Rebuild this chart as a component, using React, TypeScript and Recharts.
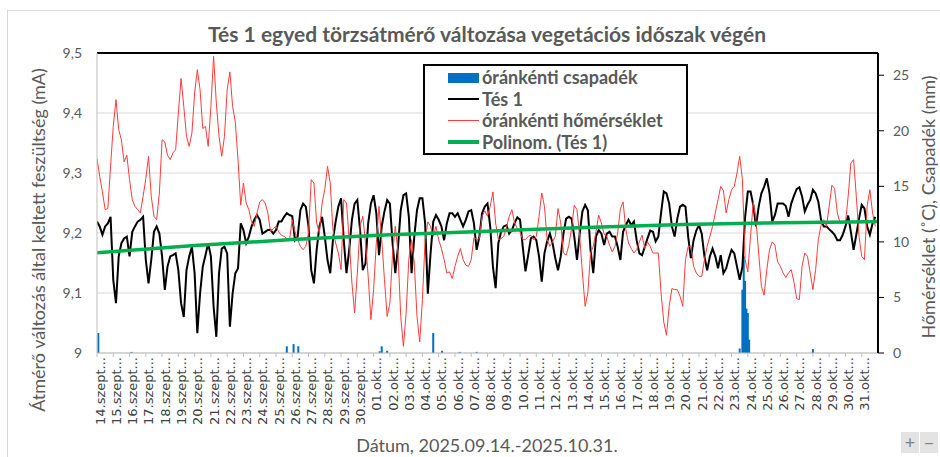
import React from 'react';
import { ComposedChart, Line, Bar, XAxis, YAxis, CartesianGrid, ReferenceLine } from 'recharts';

// ---- categories (one tick label per day) ----
const dayLabels = [
  '14.szept...', '15.szept...', '16.szept...', '17.szept...', '18.szept...', '19.szept...',
  '20.szept...', '21.szept...', '22.szept...', '23.szept...', '24.szept...', '25.szept...',
  '26.szept...', '27.szept...', '28.szept...', '29.szept...', '30.szept...',
  '01.okt...', '02.okt...', '03.okt...', '04.okt...', '05.okt...', '06.okt...', '07.okt...',
  '08.okt...', '09.okt...', '10.okt...', '11.okt...', '12.okt...', '13.okt...', '14.okt...',
  '15.okt...', '16.okt...', '17.okt...', '18.okt...', '19.okt...', '20.okt...', '21.okt...',
  '22.okt...', '23.okt...', '24.okt...', '25.okt...', '26.okt...', '27.okt...', '28.okt...',
  '29.okt...', '30.okt...', '31.okt...',
];
const hoursPerDay = 24;
const sampleStepHours = 4; // values below are read every 4 hours (6 per day)

// ---- Tés 1 (mA), 6 readings per day ----
const tes1 = [
  9.219, 9.211, 9.197, 9.211, 9.216, 9.227, // 14.09
  9.122, 9.083, 9.161, 9.183, 9.191, 9.194,
  9.161, 9.202, 9.211, 9.219, 9.222, 9.227,
  9.155, 9.116, 9.155, 9.202, 9.211, 9.199,
  9.161, 9.105, 9.144, 9.161, 9.163, 9.166,
  9.138, 9.083, 9.060, 9.138, 9.161, 9.177,
  9.133, 9.033, 9.099, 9.144, 9.163, 9.183, // 20.09
  9.161, 9.077, 9.027, 9.133, 9.174, 9.177,
  9.166, 9.044, 9.099, 9.133, 9.141, 9.216,
  9.205, 9.183, 9.194, 9.211, 9.222, 9.230,
  9.222, 9.199, 9.202, 9.205, 9.205, 9.199,
  9.205, 9.219, 9.219, 9.227, 9.233, 9.230, // 25.09
  9.228, 9.188, 9.194, 9.238, 9.249, 9.244,
  9.211, 9.138, 9.116, 9.172, 9.211, 9.227,
  9.194, 9.155, 9.133, 9.188, 9.219, 9.244,
  9.258, 9.188, 9.133, 9.172, 9.222, 9.249,
  9.255, 9.205, 9.138, 9.149, 9.216, 9.249, // 30.09
  9.263, 9.233, 9.163, 9.211, 9.236, 9.255,
  9.249, 9.183, 9.133, 9.177, 9.238, 9.263,
  9.266, 9.227, 9.133, 9.194, 9.238, 9.258,
  9.258, 9.216, 9.099, 9.166, 9.219, 9.230,
  9.222, 9.211, 9.188, 9.216, 9.233, 9.233, // 05.10
  9.227, 9.233, 9.222, 9.211, 9.222, 9.236,
  9.238, 9.216, 9.172, 9.194, 9.233, 9.244,
  9.249, 9.211, 9.144, 9.108, 9.183, 9.202,
  9.211, 9.213, 9.199, 9.205, 9.217, 9.226,
  9.222, 9.177, 9.136, 9.163, 9.191, 9.194, // 10.10
  9.188, 9.161, 9.119, 9.166, 9.186, 9.199,
  9.183, 9.158, 9.138, 9.161, 9.199, 9.224,
  9.227, 9.224, 9.194, 9.155, 9.199, 9.236,
  9.247, 9.238, 9.172, 9.133, 9.194, 9.205,
  9.199, 9.180, 9.199, 9.202, 9.194, 9.194, // 15.10
  9.177, 9.155, 9.202, 9.213, 9.222, 9.213,
  9.219, 9.188, 9.166, 9.163, 9.177, 9.191,
  9.204, 9.202, 9.186, 9.194, 9.233, 9.269,
  9.266, 9.249, 9.211, 9.194, 9.224, 9.244,
  9.247, 9.244, 9.194, 9.158, 9.188, 9.204, // 20.10
  9.213, 9.199, 9.161, 9.138, 9.161, 9.174,
  9.161, 9.141, 9.163, 9.133, 9.141, 9.158,
  9.172, 9.166, 9.144, 9.122, 9.144, 9.227,
  9.269, 9.269, 9.247, 9.211, 9.244, 9.266,
  9.277, 9.291, 9.266, 9.219, 9.230, 9.249, // 25.10
  9.249, 9.249, 9.245, 9.227, 9.249, 9.262,
  9.273, 9.276, 9.261, 9.236, 9.247, 9.255,
  9.272, 9.266, 9.252, 9.222, 9.211, 9.211,
  9.206, 9.202, 9.197, 9.188, 9.188, 9.197,
  9.211, 9.229, 9.202, 9.172, 9.197, 9.224, // 30.10
  9.247, 9.241, 9.211, 9.197, 9.216, 9.227,
];

// ---- hourly temperature (°C), 6 readings per day ----
const temperature = [
  17.5, 15.9, 14.5, 12.9, 13.0, 16.8, // 14.09
  20.4, 22.8, 20.1, 19.2, 17.2, 17.8,
  15.6, 13.8, 13.2, 12.9, 12.6, 14.1,
  15.7, 17.7, 14.1, 12.3, 12.0, 14.4,
  19.2, 19.0, 17.8, 17.4, 18.0, 18.3,
  21.6, 24.7, 22.2, 19.5, 18.6, 19.8,
  23.4, 25.5, 23.7, 20.2, 20.4, 18.6, // 20.09
  22.2, 26.7, 22.5, 19.5, 17.7, 19.5,
  23.7, 25.3, 22.2, 20.8, 17.4, 13.3,
  15.3, 13.5, 12.9, 11.8, 11.4, 12.6,
  13.6, 13.8, 13.5, 12.6, 10.9, 11.2,
  11.4, 10.9, 10.6, 10.5, 10.3, 10.2, // 25.09
  12.0, 10.9, 10.2, 9.6, 9.3, 9.6,
  10.8, 15.6, 15.3, 11.7, 10.8, 13.5,
  14.7, 16.8, 15.3, 11.1, 9.9, 9.0,
  7.5, 13.8, 13.5, 10.2, 6.3, 3.6,
  7.2, 11.4, 12.3, 10.0, 6.9, 3.0, // 30.09
  5.7, 9.9, 13.2, 10.2, 6.6, 3.3,
  4.5, 9.0, 11.4, 9.0, 3.3, 0.6,
  3.6, 8.5, 10.2, 8.1, 3.3, 1.0,
  4.8, 10.2, 11.8, 11.4, 10.5, 11.4,
  10.2, 9.4, 8.4, 7.2, 7.3, 6.7, // 05.10
  7.8, 8.7, 9.4, 8.4, 7.9, 7.8,
  8.4, 10.4, 10.2, 10.3, 12.3, 12.8,
  12.3, 13.2, 14.5, 11.7, 10.2, 10.3,
  10.5, 11.3, 12.3, 12.9, 11.7, 11.2,
  10.9, 10.2, 10.2, 10.5, 10.6, 10.2, // 10.10
  10.5, 12.3, 14.4, 13.2, 10.2, 9.6,
  10.0, 10.5, 13.0, 11.7, 9.0, 8.8,
  9.7, 11.2, 13.3, 12.9, 10.5, 7.2,
  4.2, 5.4, 9.0, 9.6, 10.9, 12.4,
  11.7, 10.7, 10.5, 9.7, 9.1, 9.6, // 15.10
  10.8, 13.0, 13.6, 11.1, 9.9, 9.4,
  9.0, 9.3, 10.0, 10.6, 9.4, 10.0,
  9.6, 9.0, 9.0, 9.0, 5.4, 2.8,
  1.6, 4.2, 5.8, 5.7, 5.7, 5.1,
  4.2, 8.4, 9.6, 9.6, 7.8, 7.2, // 20.10
  6.9, 6.9, 8.4, 9.6, 10.5, 11.4,
  12.6, 13.8, 15.0, 14.6, 12.6, 13.8,
  14.7, 15.0, 16.2, 17.7, 15.6, 8.4,
  7.3, 10.5, 13.6, 12.0, 9.0, 6.0,
  5.2, 7.5, 9.3, 10.0, 9.7, 8.2, // 25.10
  7.8, 7.2, 6.8, 7.2, 7.5, 6.4,
  4.9, 4.8, 7.8, 9.0, 8.7, 7.2,
  5.7, 7.5, 10.2, 11.5, 12.0, 11.4,
  13.2, 15.1, 14.8, 12.6, 11.7, 11.8,
  11.7, 14.1, 17.1, 17.4, 14.1, 10.5, // 30.10
  8.7, 8.4, 13.2, 14.7, 12.6, 11.4,
];

// ---- hourly precipitation (mm): hour index since 14.09 00:00, amount ----
const rainHours = [2, 51, 280, 290, 297, 417, 420, 428, 496, 509, 535, 560, 948, 952, 954, 956, 958, 960, 962, 1056];
const rainMm = [1.8, 0.1, 0.6, 0.8, 0.6, 0.15, 0.6, 0.2, 1.8, 0.2, 0.1, 0.1, 0.4, 5.7, 8.7, 6.5, 4.0, 3.6, 1.2, 0.35];

// ---- polynomial trend of Tés 1, read at every 6th day ----
const trendHours = [0, 144, 288, 432, 576, 720, 864, 1008, 1152];
const trendValues = [9.167, 9.179, 9.189, 9.197, 9.203, 9.209, 9.214, 9.217, 9.219];

// ---- axes ----
const leftTicks = [9, 9.1, 9.2, 9.3, 9.4, 9.5];
const rightTicks = [0, 5, 10, 15, 20, 25];
const dayTicks = dayLabels.map((_, i) => i * hoursPerDay);

const seriesNames = {
  rain: 'óránkénti csapadék',
  tes: 'Tés 1',
  temp: 'óránkénti hőmérséklet',
  trend: 'Polinom. (Tés 1)',
};
const chartTitle = 'Tés 1 egyed törzsátmérő változása vegetációs időszak végén';
const leftTitle = 'Átmérő változás által keltett feszültség (mA)';
const rightTitle = 'Hőmérséklet (˚C), Csapadék (mm)';
const bottomTitle = 'Dátum, 2025.09.14.-2025.10.31.';

const colors = { rain: '#0070C0', tes: '#000000', temp: '#FF3B3B', trend: '#00B050' };
const textGrey = '#595959';
const FONT = 'Lato, "Open Sans", sans-serif';

function buildRows() {
  const map = new Map<number, any>();
  const get = (h: number) => {
    if (!map.has(h)) map.set(h, { h });
    return map.get(h);
  };
  tes1.forEach((v, i) => { get(i * sampleStepHours).tes = v; });
  temperature.forEach((v, i) => { get(i * sampleStepHours).temp = v; });
  rainHours.forEach((h, i) => { get(h).rain = rainMm[i]; });
  trendHours.forEach((h, i) => { get(h).trend = trendValues[i]; });
  return Array.from(map.values()).sort((a, b) => a.h - b.h);
}

const DayTick = (props: any) => {
  const { x, y, payload } = props;
  const idx = Math.round(payload.value / hoursPerDay);
  const tx = x + 3;
  return (
    <text
      x={tx}
      y={y}
      transform={`rotate(-90 ${tx} ${y})`}
      textAnchor="end"
      dy="0.36em"
      fontFamily='"DejaVu Sans", sans-serif'
      fontSize={13}
      fill="#404040"
    >
      {dayLabels[idx]}
    </text>
  );
};

const RainBar = (props: any) => {
  const { x, y, width, height, fill } = props;
  if (!isFinite(x) || !isFinite(y) || !isFinite(height) || height <= 0) return null;
  const cx = x + (isFinite(width) ? width / 2 : 0);
  return <rect x={cx - 1} y={y} width={2} height={height} fill={fill} />;
};

const legendItems = [
  { name: seriesNames.rain, kind: 'rect', color: colors.rain, w: 10 },
  { name: seriesNames.tes, kind: 'line', color: colors.tes, w: 2 },
  { name: seriesNames.temp, kind: 'line', color: colors.temp, w: 1 },
  { name: seriesNames.trend, kind: 'line', color: colors.trend, w: 4 },
];

export default function App() {
  const rows = buildRows();
  return (
    <div style={{ position: 'fixed', left: 0, top: 0, width: 940, height: 457, background: '#fff', overflow: 'hidden' }}>
      <div style={{ position: 'absolute', left: 7, top: 10, width: 980, height: 500, border: '1px solid #d9d9d9' }} />
      <div style={{ position: 'absolute', left: 0, top: 0 }}>
        <ComposedChart width={940} height={457} data={rows} margin={{ top: 53, right: 0, bottom: 0, left: 0 }}>
          <CartesianGrid yAxisId="left" vertical={false} stroke="#d9d9d9" />
          <XAxis
            type="number"
            dataKey="h"
            domain={[0, 1152]}
            ticks={dayTicks}
            interval={0}
            allowDataOverflow
            height={104}
            tickSize={4}
            tickMargin={0}
            tickLine={{ stroke: '#bfbfbf' }}
            axisLine={{ stroke: '#bfbfbf' }}
            tick={(p: any) => <DayTick {...p} />}
          />
          <YAxis
            yAxisId="left"
            domain={[9, 9.5]}
            ticks={leftTicks}
            interval={0}
            allowDataOverflow
            width={97}
            tickSize={0}
            tickMargin={15}
            tickLine={false}
            axisLine={{ stroke: '#bfbfbf' }}
            tick={{ fill: textGrey, fontSize: 14, fontFamily: FONT }}
            tickFormatter={(v: number) => String(v).replace('.', ',')}
          />
          <YAxis
            yAxisId="right"
            orientation="right"
            domain={[0, 27]}
            ticks={rightTicks}
            interval={0}
            allowDataOverflow
            width={62}
            tickSize={6}
            tickMargin={9}
            tickLine={{ stroke: '#000' }}
            axisLine={{ stroke: '#000', strokeWidth: 2 }}
            tick={{ fill: textGrey, fontSize: 14, fontFamily: FONT }}
          />
          <ReferenceLine yAxisId="left" y={9.5} stroke="#000" strokeWidth={2} />
          <Bar yAxisId="right" dataKey="rain" name={seriesNames.rain} fill={colors.rain} barSize={2} shape={(p: any) => <RainBar {...p} />} isAnimationActive={false} />
          <Line yAxisId="left" dataKey="tes" name={seriesNames.tes} type="linear" stroke={colors.tes} strokeWidth={2} dot={false} connectNulls isAnimationActive={false} />
          <Line yAxisId="right" dataKey="temp" name={seriesNames.temp} type="linear" stroke={colors.temp} strokeWidth={1} dot={false} connectNulls isAnimationActive={false} />
          <Line yAxisId="left" dataKey="trend" name={seriesNames.trend} type="monotone" stroke={colors.trend} strokeWidth={3.5} dot={false} connectNulls isAnimationActive={false} />
        </ComposedChart>
      </div>
      <svg width={940} height={457} style={{ position: 'absolute', left: 0, top: 0, pointerEvents: 'none' }}>
        <text x={487} y={42} textAnchor="middle" fontFamily={FONT} fontWeight={700} fontSize={21} fill={textGrey}>{chartTitle}</text>
        <text transform="translate(45 240) rotate(-90)" textAnchor="middle" fontFamily={FONT} fontSize={18} fill={textGrey}>{leftTitle}</text>
        <text transform="translate(935 207) rotate(-90)" textAnchor="middle" fontFamily={FONT} fontSize={18} fill={textGrey}>{rightTitle}</text>
        <text x={487} y={452} textAnchor="middle" fontFamily={FONT} fontSize={18} fill={textGrey}>{bottomTitle}</text>
      </svg>
      <div style={{ position: 'absolute', left: 423, top: 64, width: 265, height: 91, border: '2px solid #000', boxSizing: 'border-box', background: '#fff' }}>
        {legendItems.map((it, i) => (
          <div key={it.name} style={{ position: 'absolute', left: 0, top: 1.3 + i * 21.4, height: 21.4, display: 'flex', alignItems: 'center' }}>
            <div style={{ marginLeft: 23, width: 31, height: it.w, background: it.color }} />
            <div style={{ marginLeft: 3, fontFamily: FONT, fontWeight: 700, fontSize: 18, color: textGrey, lineHeight: '21.4px', whiteSpace: 'nowrap' }}>{it.name}</div>
          </div>
        ))}
      </div>
      <div style={{ position: 'absolute', left: 901, top: 432, width: 18, height: 21, background: '#e3e3e3', color: '#7f7f7f', fontFamily: FONT, fontSize: 18, lineHeight: '21px', textAlign: 'center' }}>+</div>
      <div style={{ position: 'absolute', left: 920, top: 432, width: 18, height: 21, background: '#e3e3e3', color: '#7f7f7f', fontFamily: FONT, fontSize: 18, lineHeight: '21px', textAlign: 'center' }}>−</div>
    </div>
  );
}
